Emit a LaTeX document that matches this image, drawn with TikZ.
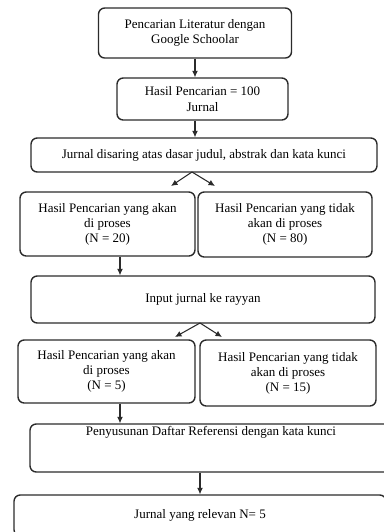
\documentclass[tikz,border=0pt]{standalone}
\usepackage{fontspec}
\setmainfont{Liberation Serif}
\usepackage{tikz}
\usetikzlibrary{arrows.meta,positioning}
\definecolor{garis}{HTML}{2B2B2B}

\begin{document}
\begin{tikzpicture}[
  x=0.02cm,y=-0.02cm,
  box/.style={draw=garis,line width=0.8pt,rounded corners=3.5pt,align=center,inner sep=0pt,font=\fontsize{7.4}{8.6}\selectfont},
  arrow/.style={-{Latex[length=1.3mm,width=1.2mm]},line width=0.6pt,draw=garis}
]
\useasboundingbox (0,0) rectangle (384,532);
\clip (0,0) rectangle (384,532);
\node[box,minimum width=3.86cm,minimum height=1.0cm] (cari) at (195,33) {Pencarian Literatur dengan\\Google Schoolar};
\node[box,minimum width=3.42cm,minimum height=0.84cm] (hasil) at (202.5,99) {Hasil Pencarian = 100\\Jurnal};
\node[box,minimum width=6.92cm,minimum height=0.68cm] (saring) at (204,155) {Jurnal disaring atas dasar judul, abstrak dan kata kunci};
\node[box,minimum width=3.5cm,minimum height=1.28cm] (prosesA) at (107.5,224) {Hasil Pencarian yang akan\\di proses\\(N = 20)};
\node[box,minimum width=3.48cm,minimum height=1.3cm] (tolakA) at (285,224.5) {Hasil Pencarian yang tidak\\akan di proses\\(N = 80)};
\node[box,minimum width=6.88cm,minimum height=0.94cm] (rayyan) at (203,299.5) {Input jurnal ke rayyan};
\node[box,minimum width=3.54cm,minimum height=1.26cm] (prosesB) at (106.5,371.5) {Hasil Pencarian yang akan\\di proses\\(N = 5)};
\node[box,minimum width=3.52cm,minimum height=1.32cm] (tolakB) at (288,373) {Hasil Pencarian yang tidak\\akan di proses\\(N = 15)};
\node[box,minimum width=7.24cm,text height=0.23cm,text depth=0.73cm] (susun) at (211,448) {Penyusunan Daftar Referensi dengan kata kunci};
\node[box,minimum width=7.44cm,minimum height=0.82cm] (relevan) at (200,515.5) {Jurnal yang relevan N= 5};
% titik percabangan
\coordinate (pecah1) at (192,172);
\coordinate (ujung1a) at (171,186);
\coordinate (ujung1b) at (215,186);
\coordinate (pecah2) at (200,323);
\coordinate (ujung2a) at (175,337);
\coordinate (ujung2b) at (222,337);
\draw[arrow] (cari) -- (cari.south |- hasil.north);
\draw[arrow] (cari.south |- hasil.south) -- (cari.south |- saring.north);
\draw[arrow] (pecah1) -- (ujung1a);
\draw[arrow] (pecah1) -- (ujung1b);
\draw[arrow] ([xshift=0.25cm]prosesA.south) -- ([xshift=0.25cm]prosesA.south |- rayyan.north);
\draw[arrow] (pecah2) -- (ujung2a);
\draw[arrow] (pecah2) -- (ujung2b);
\draw[arrow] ([xshift=0.27cm]prosesB.south) -- ([xshift=0.27cm]prosesB.south |- susun.north);
\draw[arrow] (susun.south -| relevan) -- (relevan);
\end{tikzpicture}
\end{document}
